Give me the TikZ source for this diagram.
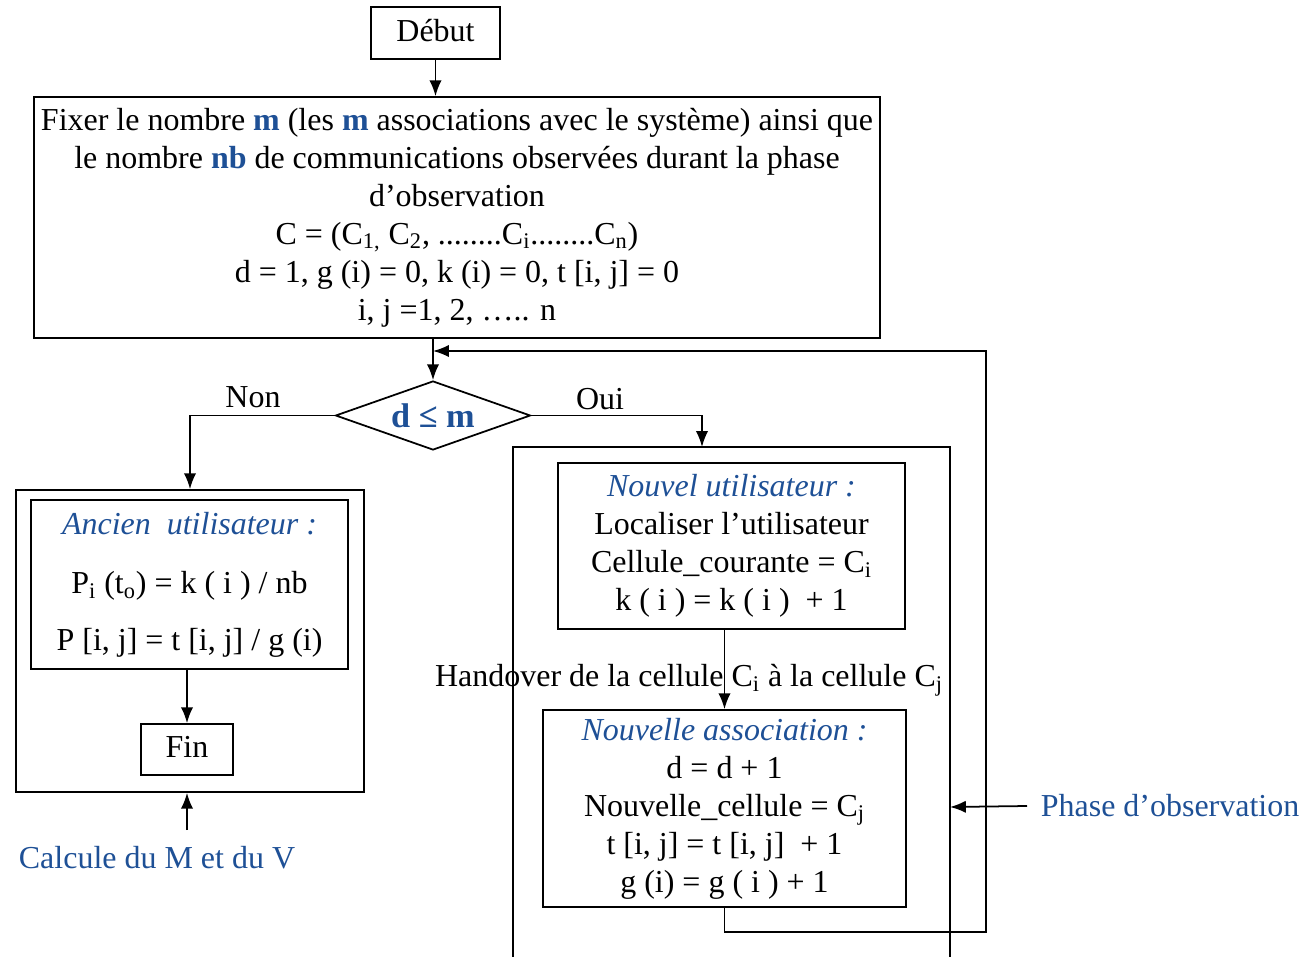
\documentclass[tikz,border=0pt]{standalone}
\usepackage{fontspec}
\setmainfont{Liberation Serif}
\usetikzlibrary{shapes.geometric, arrows.meta}
\definecolor{bleu}{RGB}{30,80,150}
\newcommand{\lowr}[1]{\textsubscript{#1}}

\begin{document}
\begin{tikzpicture}[x = 0.02cm, y = -0.02cm, line width = 1pt, font = \fontsize{18.2}{21.6}\selectfont,
                    boite/.style = {draw, rectangle, align = center, inner sep = 0pt},
                    fl/.style = {-{Latex[length = 9pt, width = 7pt]}}]
                          \useasboundingbox (0,0) rectangle (1303,957);
                          \node (debut)[boite, minimum width = 2.58cm, minimum height = 1.04cm] at (435.5,33) {\raisebox{3pt}{Début}};
                          \node (init)[boite, minimum width = 16.92cm, minimum height = 4.82cm] at (457,217.5) {Fixer le nombre \textcolor{bleu}{\textbf{m}} (les \textcolor{bleu}{\textbf{m}} associations avec le système) ainsi que\\ le nombre \textcolor{bleu}{\textbf{nb}} de communications observées durant la phase\\ d’observation\\ C = (C\lowr{1,} C\lowr{2}, ........C\lowr{i}........C\lowr{n})\\ d = 1, g (i) = 0, k (i) = 0, t [i, j] = 0\\ i, j =1, 2, ….. n};
                          \node (test)[draw, diamond, aspect = 2.8, inner sep = 0pt, minimum width = 3.9cm, minimum height = 1.38cm, font = \fontsize{19.5}{22}\selectfont] at (433,415.5) {\raisebox{-2.5pt}{\textcolor{bleu}{\textbf{d ≤ m}}}};
                          \node (non) at (253,397) {Non};
                          \node (oui) at (600,399) {Oui};
                          \node (ancbox)[draw, minimum width = 6.96cm, minimum height = 6.04cm] at (190,641) {};
                          \node (anc)[boite, minimum width = 6.34cm, minimum height = 3.38cm, font = \fontsize{18.2}{32.3}\selectfont] at (189.5,584.5) {\raisebox{1.5pt}{\textcolor{bleu}{\textit{Ancien~~utilisateur :}}}\\ P\lowr{i} (t\lowr{o}) = k ( i ) / nb\\ P [i, j] = t [i, j] / g (i)};
                          \node (fin)[boite, minimum width = 1.84cm, minimum height = 1.02cm] at (187,749.5) {\raisebox{3pt}{Fin}};
                          \node (calc)[text = bleu] at (157,858) {Calcule du M et du V};
                          \coordinate (calcpt) at (187,830);
                          \coordinate (rtop) at (702,447);
                          \draw (513,957) |- (950,447) -- (950,957);
                          \node (nouvel)[boite, minimum width = 6.94cm, minimum height = 3.32cm] at (731.5,546) {\textcolor{bleu}{\textit{Nouvel utilisateur :}}\\ Localiser l’utilisateur\\ Cellule\_courante = C\lowr{i}\\ k ( i ) = k ( i )~~+ 1};
                          \node (hand) at (689,680) {Handover de la cellule C\lowr{i} à la cellule C\lowr{j}};
                          \node (nouv)[boite, minimum width = 7.26cm, minimum height = 3.94cm] at (724.5,808.5) {\textcolor{bleu}{\textit{Nouvelle association :}}\\ d = d + 1\\ Nouvelle\_cellule = C\lowr{j}\\ t [i, j] = t [i, j]~~+ 1\\ g (i) = g ( i ) + 1};
                          \coordinate (coin) at (986,932);
                          \coordinate (retour) at (433,351);
                          \node (phase)[anchor = west, text = bleu, inner xsep = 7.4pt] at (1027,806) {Phase d’observation};
                          \coordinate (rbord) at (950,807);
                          \draw [fl](debut.south)--(debut.south |- init.north);
                          \draw [fl](test.north |- init.south)--(test.north);
                          \draw [fl](test.west)-|(ancbox.north);
                          \draw [fl](test.east)-|(rtop);
                          \draw [fl](anc.south -| fin.north)--(fin.north);
                          \draw [fl](calcpt)--(calcpt |- ancbox.south);
                          \draw [fl](nouv.north |- nouvel.south)--(nouv.north);
                          \draw [fl](nouv.south)|-(coin)|-(retour);
                          \draw [fl](phase.west)--(rbord);
                        \end{tikzpicture}
\end{document}
